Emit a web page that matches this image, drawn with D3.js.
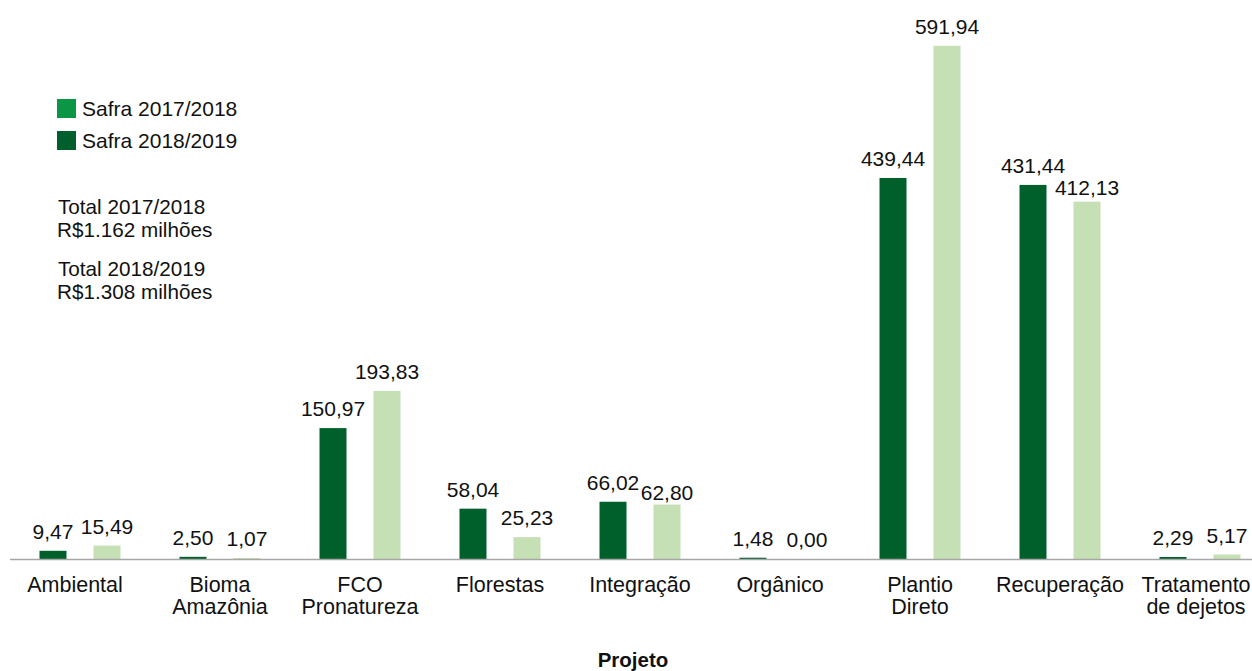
<!DOCTYPE html>
<html lang="pt-BR">
<head>
<meta charset="utf-8">
<script src="https://cdn.jsdelivr.net/npm/d3@7"></script>
<style>
  html, body { margin: 0; padding: 0; background: #fff; }
  svg { display: block; font-family: "Liberation Sans", Arial, sans-serif; }
</style>
</head>
<body>
<svg id="chart" width="1252" height="671"></svg>
<script>
// Crédito rural por projeto (R$ milhões)
const categories = [
  "Ambiental", "Bioma\nAmazônia", "FCO\nPronatureza", "Florestas", "Integração",
  "Orgânico", "Plantio\nDireto", "Recuperação", "Tratamento\nde dejetos"
];
const safra20172018 = [9.47, 2.50, 150.97, 58.04, 66.02, 1.48, 439.44, 431.44, 2.29];
const safra20182019 = [15.49, 1.07, 193.83, 25.23, 62.80, 0.00, 591.94, 412.13, 5.17];
const seriesNames = ["Safra 2017/2018", "Safra 2018/2019"];
const totalLines = [
  ["Total 2017/2018", "R$1.162 milhões"],
  ["Total 2018/2019", "R$1.308 milhões"]
];
const axisTitle = "Projeto";

// Styling
const barColors = ["#00602b", "#c6e0b5"];
const legendColors = ["#0b9646", "#005f2c"];
// labels the layout pushes closer to their bars to avoid neighbours
const labelNudge = { "Integração|1": 7, "Recuperação|1": 5 };
// edge category labels kept inside the frame
const catShift = { "Ambiental": -5, "Tratamento\nde dejetos": -4 };

const W = 1252, H = 671;
const baseY = 559;
const svg = d3.select("#chart");

const ptBR = d3.formatLocale({ decimal: ",", thousands: ".", grouping: [3], currency: ["R$", ""] });
const fmt = ptBR.format(".2f");

const x = d3.scaleBand().domain(categories).range([10, 1270]).paddingInner(0).paddingOuter(0);
const xSub = d3.scaleBand().domain([0, 1]).range([0, 81]).paddingInner(0.5).paddingOuter(0);
const y = d3.scaleLinear().domain([0, 644.7]).range([baseY, 0]);

const rows = categories.map((c, i) => ({ cat: c, vals: [safra20172018[i], safra20182019[i]] }));

const groups = svg.append("g").selectAll("g")
  .data(rows).join("g")
  .attr("transform", d => `translate(${x(d.cat) + x.bandwidth() / 2 - 40.5},0)`);

groups.selectAll("rect")
  .data(d => d.vals.map((v, k) => ({ v, k, cat: d.cat })))
  .join("rect")
  .attr("x", d => xSub(d.k))
  .attr("width", xSub.bandwidth())
  .attr("y", d => y(d.v))
  .attr("height", d => baseY - y(d.v))
  .attr("fill", d => barColors[d.k]);

groups.selectAll("text.val")
  .data(d => d.vals.map((v, k) => ({ v, k, cat: d.cat })))
  .join("text")
  .attr("class", "val")
  .attr("x", d => xSub(d.k) + xSub.bandwidth() / 2)
  .attr("y", d => y(d.v) - 12 + (labelNudge[d.cat + "|" + d.k] || 0))
  .attr("text-anchor", "middle")
  .attr("font-size", 21)
  .attr("fill", "#111")
  .text(d => fmt(d.v));

// Category axis
const axis = d3.axisBottom(x).tickSize(0).tickFormat("");
const axisG = svg.append("g").attr("transform", `translate(0,${baseY})`).call(axis);
axisG.select(".domain").remove();
svg.append("line")
  .attr("x1", 10).attr("x2", W)
  .attr("y1", baseY + 0.5).attr("y2", baseY + 0.5)
  .attr("stroke", "#a6a6a6").attr("stroke-width", 1.5);

const catX = d => x(d) + x.bandwidth() / 2 + (catShift[d] || 0);
const catLabels = svg.append("g").selectAll("text")
  .data(categories).join("text")
  .attr("x", catX)
  .attr("y", 592)
  .attr("text-anchor", "middle")
  .attr("font-size", 21.5)
  .attr("fill", "#111");
catLabels.each(function (d) {
  const t = d3.select(this);
  d.split("\n").forEach((line, i) => {
    t.append("tspan")
      .attr("x", catX(d))
      .attr("dy", i === 0 ? 0 : 22)
      .text(line);
  });
});

svg.append("text")
  .attr("x", 633).attr("y", 667)
  .attr("text-anchor", "middle")
  .attr("font-size", 20.5)
  .attr("font-weight", "bold")
  .attr("fill", "#111")
  .text(axisTitle);

// Legend
const legend = svg.append("g").attr("transform", "translate(57,99)");
seriesNames.forEach((name, i) => {
  legend.append("rect")
    .attr("x", 0).attr("y", i * 32)
    .attr("width", 19).attr("height", 19)
    .attr("fill", legendColors[i]);
  legend.append("text")
    .attr("x", 25).attr("y", i * 32 + 17)
    .attr("font-size", 21)
    .attr("fill", "#111")
    .text(name);
});

// Totals
totalLines.forEach((lines, i) => {
  const t = svg.append("text")
    .attr("x", 58).attr("y", 214 + i * 62)
    .attr("font-size", 20.7)
    .attr("fill", "#111");
  lines.forEach((line, j) => {
    t.append("tspan").attr("x", j === 0 ? 58 : 57).attr("dy", j === 0 ? 0 : 23).text(line);
  });
});
</script>
</body>
</html>
